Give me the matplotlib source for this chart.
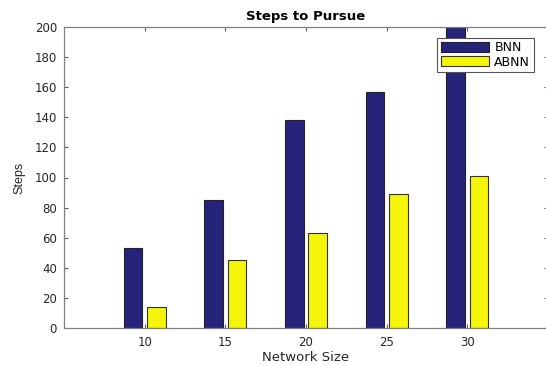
import numpy as np
import matplotlib
matplotlib.use("Agg")
import matplotlib.pyplot as plt

plt.rcParams['font.family'] = ['DejaVu Sans']

sizes = [10, 15, 20, 25, 30]
bnn = [53, 85, 138, 157, 200]
abnn = [14, 45, 63, 89, 101]

fig = plt.figure(figsize=(5.46, 3.66), dpi=100)
ax = fig.add_axes([64 / 546, 1 - 328 / 366, 484 / 546, 301 / 366])

x = np.array(sizes, dtype=float)
w = 1.15
off = 0.72
ax.bar(x - off, bnn, w, color="#25247a", edgecolor="#222222", linewidth=0.8, label="BNN")
ax.bar(x + off, abnn, w, color="#f5f50a", edgecolor="#333333", linewidth=0.8, label="ABNN")

ax.set_xlim(5, 35)
ax.set_ylim(0, 200)
ax.set_xticks(sizes)
ax.set_yticks(np.arange(0, 201, 20))

for s in ax.spines.values():
    s.set_color("#808080")
    s.set_linewidth(0.9)
ax.tick_params(direction="in", top=True, right=True, length=3, width=0.8,
               color="#606060", labelsize=8.5, labelcolor="#262626")
ax.tick_params(axis="x", pad=6)
ax.tick_params(axis="y", pad=5)

ax.set_title("Steps to Pursue", fontsize=9.5, fontweight="bold", pad=5)
ax.set_xlabel("Network Size", fontsize=9.5, color="#262626", labelpad=1)
ax.set_ylabel("Steps", fontsize=9, color="#262626", labelpad=7,
              family="Liberation Sans")

leg = ax.legend(loc="upper right", bbox_to_anchor=(534 / 546, 1 - 37.5 / 366),
                bbox_transform=fig.transFigure, borderaxespad=0,
                fontsize=9, frameon=True, fancybox=False, framealpha=1,
                handlelength=3.9, handleheight=0.85,
                handletextpad=0.4, labelspacing=0.1, borderpad=0.3)
leg.get_frame().set_edgecolor("#555555")
leg.get_frame().set_linewidth(0.8)

fig.savefig("out.png", dpi=100)
